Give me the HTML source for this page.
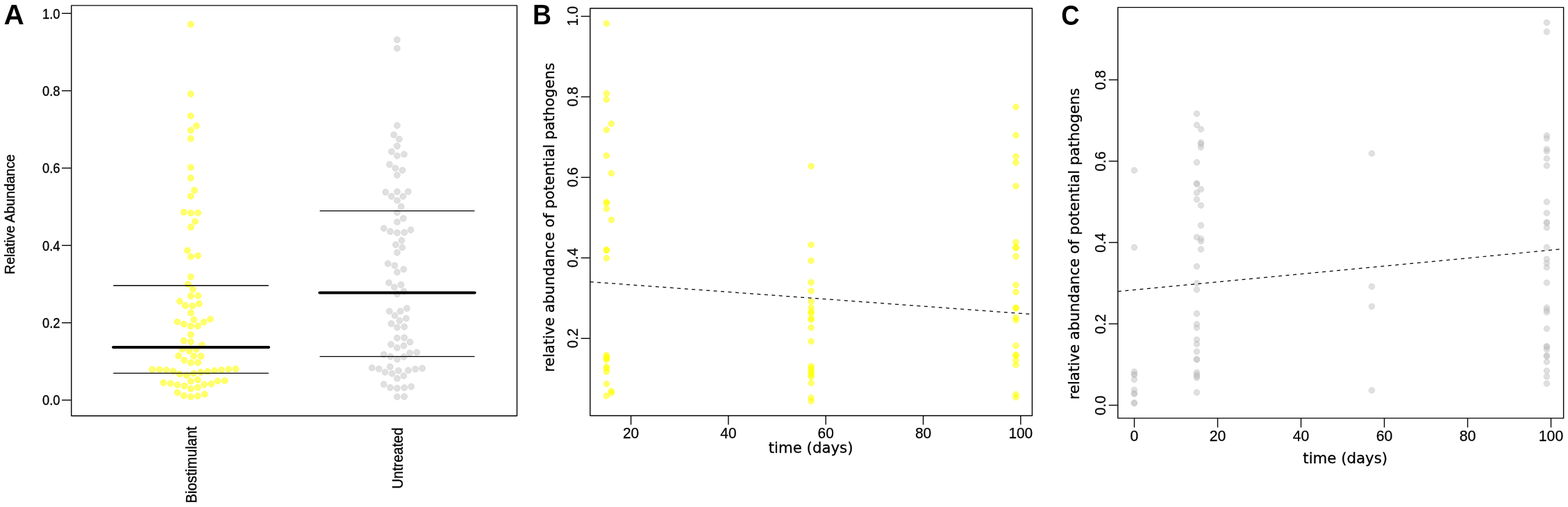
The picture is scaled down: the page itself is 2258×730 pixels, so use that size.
<!DOCTYPE html>
<html lang="en">
<head>
<meta charset="utf-8">
<title>Relative abundance of potential pathogens</title>
<style>
html,body{margin:0;padding:0;background:#fff;}
body{width:2258px;height:730px;overflow:hidden;}
svg{display:block;}
text{fill:#000;}
</style>
</head>
<body>
<svg width="2258" height="730" viewBox="0 0 2258 730">
<rect x="0" y="0" width="2258" height="730" fill="#fff"/>
<g fill="rgba(255,255,0,0.57)" stroke="rgba(255,255,0,0.57)" stroke-width="0.9">
<circle cx="274.7" cy="35.0" r="4.45"/>
<circle cx="274.7" cy="135.3" r="4.45"/>
<circle cx="274.7" cy="166.9" r="4.45"/>
<circle cx="282.7" cy="181.1" r="4.45"/>
<circle cx="274.7" cy="187.7" r="4.45"/>
<circle cx="274.7" cy="199.6" r="4.45"/>
<circle cx="274.7" cy="240.9" r="4.45"/>
<circle cx="274.7" cy="256.3" r="4.45"/>
<circle cx="280.1" cy="274.0" r="4.45"/>
<circle cx="274.7" cy="282.6" r="4.45"/>
<circle cx="264.7" cy="305.5" r="4.45"/>
<circle cx="274.8" cy="306.8" r="4.45"/>
<circle cx="285.1" cy="306.4" r="4.45"/>
<circle cx="281.0" cy="318.9" r="4.45"/>
<circle cx="274.8" cy="327.0" r="4.45"/>
<circle cx="269.9" cy="360.7" r="4.45"/>
<circle cx="274.8" cy="369.6" r="4.45"/>
<circle cx="284.9" cy="368.2" r="4.45"/>
<circle cx="274.8" cy="398.6" r="4.45"/>
<circle cx="270.8" cy="409.3" r="4.45"/>
<circle cx="277.8" cy="416.7" r="4.45"/>
<circle cx="274.8" cy="426.3" r="4.45"/>
<circle cx="285.1" cy="425.8" r="4.45"/>
<circle cx="258.9" cy="433.8" r="4.45"/>
<circle cx="266.8" cy="440.0" r="4.45"/>
<circle cx="277.1" cy="440.5" r="4.45"/>
<circle cx="286.7" cy="437.3" r="4.45"/>
<circle cx="274.8" cy="450.5" r="4.45"/>
<circle cx="279.3" cy="460.1" r="4.45"/>
<circle cx="255.3" cy="463.4" r="4.45"/>
<circle cx="264.9" cy="466.7" r="4.45"/>
<circle cx="274.8" cy="469.5" r="4.45"/>
<circle cx="284.9" cy="469.3" r="4.45"/>
<circle cx="293.4" cy="463.8" r="4.45"/>
<circle cx="302.7" cy="459.6" r="4.45"/>
<circle cx="274.8" cy="481.8" r="4.45"/>
<circle cx="264.7" cy="490.5" r="4.45"/>
<circle cx="274.8" cy="492.2" r="4.45"/>
<circle cx="290.8" cy="496.8" r="4.45"/>
<circle cx="262.6" cy="502.8" r="4.45"/>
<circle cx="272.5" cy="505.3" r="4.45"/>
<circle cx="282.6" cy="502.8" r="4.45"/>
<circle cx="257.1" cy="512.4" r="4.45"/>
<circle cx="279.2" cy="512.7" r="4.45"/>
<circle cx="289.6" cy="512.8" r="4.45"/>
<circle cx="265.2" cy="518.7" r="4.45"/>
<circle cx="274.8" cy="522.3" r="4.45"/>
<circle cx="285.1" cy="522.0" r="4.45"/>
<circle cx="219.3" cy="532.0" r="4.45"/>
<circle cx="229.6" cy="532.1" r="4.45"/>
<circle cx="239.6" cy="532.8" r="4.45"/>
<circle cx="249.7" cy="534.6" r="4.45"/>
<circle cx="258.9" cy="538.7" r="4.45"/>
<circle cx="269.0" cy="540.5" r="4.45"/>
<circle cx="279.0" cy="537.7" r="4.45"/>
<circle cx="288.9" cy="535.8" r="4.45"/>
<circle cx="299.0" cy="534.9" r="4.45"/>
<circle cx="309.0" cy="533.6" r="4.45"/>
<circle cx="319.0" cy="532.7" r="4.45"/>
<circle cx="329.3" cy="531.7" r="4.45"/>
<circle cx="339.5" cy="531.2" r="4.45"/>
<circle cx="235.3" cy="551.0" r="4.45"/>
<circle cx="245.5" cy="552.1" r="4.45"/>
<circle cx="255.5" cy="554.2" r="4.45"/>
<circle cx="265.5" cy="555.7" r="4.45"/>
<circle cx="274.8" cy="548.8" r="4.45"/>
<circle cx="284.8" cy="546.9" r="4.45"/>
<circle cx="274.8" cy="559.8" r="4.45"/>
<circle cx="284.8" cy="557.9" r="4.45"/>
<circle cx="294.1" cy="553.6" r="4.45"/>
<circle cx="304.2" cy="552.7" r="4.45"/>
<circle cx="313.6" cy="548.6" r="4.45"/>
<circle cx="323.7" cy="548.2" r="4.45"/>
<circle cx="255.5" cy="565.3" r="4.45"/>
<circle cx="264.7" cy="569.7" r="4.45"/>
<circle cx="274.8" cy="571.2" r="4.45"/>
<circle cx="284.8" cy="570.2" r="4.45"/>
<circle cx="294.8" cy="567.6" r="4.45"/>
</g>
<g fill="rgba(190,190,190,0.47)" stroke="rgba(190,190,190,0.47)" stroke-width="0.9">
<circle cx="571.8" cy="57.3" r="4.45"/>
<circle cx="571.8" cy="69.7" r="4.45"/>
<circle cx="571.9" cy="180.7" r="4.45"/>
<circle cx="567.1" cy="194.1" r="4.45"/>
<circle cx="574.9" cy="200.4" r="4.45"/>
<circle cx="571.9" cy="210.3" r="4.45"/>
<circle cx="563.8" cy="218.4" r="4.45"/>
<circle cx="571.9" cy="224.4" r="4.45"/>
<circle cx="581.9" cy="222.1" r="4.45"/>
<circle cx="560.9" cy="236.8" r="4.45"/>
<circle cx="569.4" cy="242.2" r="4.45"/>
<circle cx="579.4" cy="245.1" r="4.45"/>
<circle cx="571.9" cy="252.2" r="4.45"/>
<circle cx="555.3" cy="276.8" r="4.45"/>
<circle cx="571.9" cy="276.0" r="4.45"/>
<circle cx="587.8" cy="275.9" r="4.45"/>
<circle cx="563.7" cy="282.7" r="4.45"/>
<circle cx="580.4" cy="282.7" r="4.45"/>
<circle cx="571.9" cy="288.6" r="4.45"/>
<circle cx="577.6" cy="297.4" r="4.45"/>
<circle cx="571.9" cy="305.9" r="4.45"/>
<circle cx="580.8" cy="314.5" r="4.45"/>
<circle cx="571.9" cy="319.6" r="4.45"/>
<circle cx="552.7" cy="328.8" r="4.45"/>
<circle cx="562.0" cy="333.3" r="4.45"/>
<circle cx="571.9" cy="335.1" r="4.45"/>
<circle cx="582.2" cy="334.7" r="4.45"/>
<circle cx="591.5" cy="331.0" r="4.45"/>
<circle cx="578.3" cy="346.3" r="4.45"/>
<circle cx="569.8" cy="352.3" r="4.45"/>
<circle cx="579.2" cy="356.4" r="4.45"/>
<circle cx="571.9" cy="363.7" r="4.45"/>
<circle cx="558.6" cy="379.6" r="4.45"/>
<circle cx="568.3" cy="382.3" r="4.45"/>
<circle cx="571.9" cy="391.8" r="4.45"/>
<circle cx="581.3" cy="387.7" r="4.45"/>
<circle cx="560.0" cy="407.1" r="4.45"/>
<circle cx="567.8" cy="413.4" r="4.45"/>
<circle cx="577.5" cy="410.0" r="4.45"/>
<circle cx="581.5" cy="419.5" r="4.45"/>
<circle cx="571.9" cy="423.3" r="4.45"/>
<circle cx="560.7" cy="448.1" r="4.45"/>
<circle cx="576.5" cy="448.1" r="4.45"/>
<circle cx="585.9" cy="444.0" r="4.45"/>
<circle cx="568.6" cy="454.4" r="4.45"/>
<circle cx="584.9" cy="458.4" r="4.45"/>
<circle cx="575.3" cy="461.8" r="4.45"/>
<circle cx="563.4" cy="466.0" r="4.45"/>
<circle cx="571.9" cy="471.4" r="4.45"/>
<circle cx="582.2" cy="470.5" r="4.45"/>
<circle cx="571.9" cy="486.7" r="4.45"/>
<circle cx="582.2" cy="486.3" r="4.45"/>
<circle cx="590.4" cy="492.5" r="4.45"/>
<circle cx="563.0" cy="495.9" r="4.45"/>
<circle cx="581.5" cy="497.8" r="4.45"/>
<circle cx="571.9" cy="500.8" r="4.45"/>
<circle cx="552.7" cy="510.5" r="4.45"/>
<circle cx="590.1" cy="508.4" r="4.45"/>
<circle cx="600.2" cy="507.4" r="4.45"/>
<circle cx="562.4" cy="513.3" r="4.45"/>
<circle cx="581.5" cy="513.8" r="4.45"/>
<circle cx="571.9" cy="517.3" r="4.45"/>
<circle cx="535.6" cy="529.6" r="4.45"/>
<circle cx="545.6" cy="531.2" r="4.45"/>
<circle cx="554.6" cy="535.9" r="4.45"/>
<circle cx="561.8" cy="528.1" r="4.45"/>
<circle cx="564.6" cy="537.9" r="4.45"/>
<circle cx="573.9" cy="533.7" r="4.45"/>
<circle cx="571.9" cy="544.9" r="4.45"/>
<circle cx="581.3" cy="541.1" r="4.45"/>
<circle cx="587.9" cy="533.3" r="4.45"/>
<circle cx="598.1" cy="531.5" r="4.45"/>
<circle cx="608.1" cy="530.3" r="4.45"/>
<circle cx="552.7" cy="553.4" r="4.45"/>
<circle cx="561.9" cy="558.1" r="4.45"/>
<circle cx="571.9" cy="559.0" r="4.45"/>
<circle cx="582.2" cy="558.2" r="4.45"/>
<circle cx="592.2" cy="556.6" r="4.45"/>
<circle cx="571.9" cy="571.4" r="4.45"/>
<circle cx="582.2" cy="571.0" r="4.45"/>
</g>
<rect x="102.80" y="7.90" width="641.70" height="590.90" fill="none" stroke="#000" stroke-width="1.4" stroke-linejoin="round"/>
<line x1="89.00" y1="576.10" x2="102.80" y2="576.10" stroke="#000" stroke-width="1.4" />
<text x="86.50" y="583.40" font-family='"Liberation Sans", sans-serif' font-size="19.9" text-anchor="end" stroke="#000" stroke-width="0.35" stroke-linejoin="round" textLength="25.60" lengthAdjust="spacingAndGlyphs">0.0</text>
<line x1="89.00" y1="464.74" x2="102.80" y2="464.74" stroke="#000" stroke-width="1.4" />
<text x="86.50" y="472.04" font-family='"Liberation Sans", sans-serif' font-size="19.9" text-anchor="end" stroke="#000" stroke-width="0.35" stroke-linejoin="round" textLength="25.60" lengthAdjust="spacingAndGlyphs">0.2</text>
<line x1="89.00" y1="353.38" x2="102.80" y2="353.38" stroke="#000" stroke-width="1.4" />
<text x="86.50" y="360.68" font-family='"Liberation Sans", sans-serif' font-size="19.9" text-anchor="end" stroke="#000" stroke-width="0.35" stroke-linejoin="round" textLength="25.60" lengthAdjust="spacingAndGlyphs">0.4</text>
<line x1="89.00" y1="242.02" x2="102.80" y2="242.02" stroke="#000" stroke-width="1.4" />
<text x="86.50" y="249.32" font-family='"Liberation Sans", sans-serif' font-size="19.9" text-anchor="end" stroke="#000" stroke-width="0.35" stroke-linejoin="round" textLength="25.60" lengthAdjust="spacingAndGlyphs">0.6</text>
<line x1="89.00" y1="130.66" x2="102.80" y2="130.66" stroke="#000" stroke-width="1.4" />
<text x="86.50" y="137.96" font-family='"Liberation Sans", sans-serif' font-size="19.9" text-anchor="end" stroke="#000" stroke-width="0.35" stroke-linejoin="round" textLength="25.60" lengthAdjust="spacingAndGlyphs">0.8</text>
<line x1="89.00" y1="19.30" x2="102.80" y2="19.30" stroke="#000" stroke-width="1.4" />
<text x="86.50" y="26.60" font-family='"Liberation Sans", sans-serif' font-size="19.9" text-anchor="end" stroke="#000" stroke-width="0.35" stroke-linejoin="round" textLength="25.60" lengthAdjust="spacingAndGlyphs">1.0</text>
<line x1="163.70" y1="411.30" x2="386.30" y2="411.30" stroke="#000" stroke-width="1.4" stroke-linecap="round"/>
<line x1="163.00" y1="499.90" x2="387.00" y2="499.90" stroke="#000" stroke-width="4.0" stroke-linecap="round"/>
<line x1="163.70" y1="537.40" x2="386.30" y2="537.40" stroke="#000" stroke-width="1.4" stroke-linecap="round"/>
<line x1="461.00" y1="303.60" x2="683.00" y2="303.60" stroke="#000" stroke-width="1.4" stroke-linecap="round"/>
<line x1="460.30" y1="421.40" x2="683.70" y2="421.40" stroke="#000" stroke-width="4.0" stroke-linecap="round"/>
<line x1="461.00" y1="513.40" x2="683.00" y2="513.40" stroke="#000" stroke-width="1.4" stroke-linecap="round"/>
<text font-family='"Liberation Sans", sans-serif' font-size="19.6" text-anchor="middle" stroke="#000" stroke-width="0.35" stroke-linejoin="round" textLength="172.80" lengthAdjust="spacingAndGlyphs" transform="translate(21.30,308.50) rotate(-90)">Relative Abundance</text>
<text font-family='"Liberation Sans", sans-serif' font-size="21.4" text-anchor="end" stroke="#000" stroke-width="0.35" stroke-linejoin="round" textLength="110.60" lengthAdjust="spacingAndGlyphs" transform="translate(282.50,614.00) rotate(-90)">Biostimulant</text>
<text font-family='"Liberation Sans", sans-serif' font-size="21.4" text-anchor="end" stroke="#000" stroke-width="0.35" stroke-linejoin="round" textLength="88.10" lengthAdjust="spacingAndGlyphs" transform="translate(579.60,615.60) rotate(-90)">Untreated</text>
<text x="5.60" y="34.80" font-family='"Liberation Sans", sans-serif' font-size="40.6" text-anchor="start" font-weight="bold">A</text>
<g fill="rgba(255,255,0,0.57)" stroke="rgba(255,255,0,0.57)" stroke-width="0.9">
<circle cx="873.4" cy="33.8" r="4.25"/>
<circle cx="873.4" cy="134.5" r="4.25"/>
<circle cx="873.4" cy="143.3" r="4.25"/>
<circle cx="880.4" cy="178.1" r="4.25"/>
<circle cx="873.4" cy="186.9" r="4.25"/>
<circle cx="873.4" cy="224.1" r="4.25"/>
<circle cx="880.4" cy="249.4" r="4.25"/>
<circle cx="873.4" cy="290.9" r="4.25"/>
<circle cx="873.4" cy="292.5" r="4.25"/>
<circle cx="873.4" cy="300.7" r="4.25"/>
<circle cx="880.4" cy="316.6" r="4.25"/>
<circle cx="873.4" cy="359.6" r="4.25"/>
<circle cx="873.4" cy="360.6" r="4.25"/>
<circle cx="873.4" cy="371.8" r="4.25"/>
<circle cx="873.4" cy="511.5" r="4.25"/>
<circle cx="873.4" cy="513.7" r="4.25"/>
<circle cx="873.4" cy="516.4" r="4.25"/>
<circle cx="873.4" cy="517.8" r="4.25"/>
<circle cx="873.4" cy="527.9" r="4.25"/>
<circle cx="873.4" cy="530.7" r="4.25"/>
<circle cx="873.4" cy="535.3" r="4.25"/>
<circle cx="873.4" cy="552.7" r="4.25"/>
<circle cx="880.4" cy="563.0" r="4.25"/>
<circle cx="880.4" cy="565.8" r="4.25"/>
<circle cx="873.4" cy="569.9" r="4.25"/>
<circle cx="1168.1" cy="239.3" r="4.25"/>
<circle cx="1168.1" cy="352.5" r="4.25"/>
<circle cx="1168.1" cy="375.3" r="4.25"/>
<circle cx="1168.1" cy="406.6" r="4.25"/>
<circle cx="1168.1" cy="418.9" r="4.25"/>
<circle cx="1168.1" cy="433.9" r="4.25"/>
<circle cx="1168.1" cy="442.8" r="4.25"/>
<circle cx="1168.1" cy="448.7" r="4.25"/>
<circle cx="1168.1" cy="450.7" r="4.25"/>
<circle cx="1168.1" cy="458.4" r="4.25"/>
<circle cx="1168.1" cy="460.3" r="4.25"/>
<circle cx="1168.1" cy="471.8" r="4.25"/>
<circle cx="1168.1" cy="491.5" r="4.25"/>
<circle cx="1168.1" cy="527.3" r="4.25"/>
<circle cx="1168.1" cy="530.3" r="4.25"/>
<circle cx="1168.1" cy="533.6" r="4.25"/>
<circle cx="1168.1" cy="536.8" r="4.25"/>
<circle cx="1168.1" cy="539.6" r="4.25"/>
<circle cx="1168.1" cy="542.5" r="4.25"/>
<circle cx="1168.1" cy="551.6" r="4.25"/>
<circle cx="1168.1" cy="572.8" r="4.25"/>
<circle cx="1168.1" cy="577.6" r="4.25"/>
<circle cx="1462.9" cy="153.9" r="4.25"/>
<circle cx="1462.9" cy="194.8" r="4.25"/>
<circle cx="1462.9" cy="225.2" r="4.25"/>
<circle cx="1462.9" cy="234.0" r="4.25"/>
<circle cx="1462.9" cy="267.9" r="4.25"/>
<circle cx="1462.9" cy="348.8" r="4.25"/>
<circle cx="1462.9" cy="355.8" r="4.25"/>
<circle cx="1462.9" cy="357.3" r="4.25"/>
<circle cx="1462.9" cy="369.3" r="4.25"/>
<circle cx="1462.9" cy="410.2" r="4.25"/>
<circle cx="1462.9" cy="420.5" r="4.25"/>
<circle cx="1462.9" cy="443.0" r="4.25"/>
<circle cx="1462.9" cy="444.0" r="4.25"/>
<circle cx="1462.9" cy="457.3" r="4.25"/>
<circle cx="1462.9" cy="460.9" r="4.25"/>
<circle cx="1462.9" cy="497.8" r="4.25"/>
<circle cx="1462.9" cy="510.9" r="4.25"/>
<circle cx="1462.9" cy="512.0" r="4.25"/>
<circle cx="1462.9" cy="518.6" r="4.25"/>
<circle cx="1462.9" cy="525.3" r="4.25"/>
<circle cx="1462.9" cy="567.9" r="4.25"/>
<circle cx="1462.9" cy="572.0" r="4.25"/>
</g>
<line x1="849.80" y1="405.80" x2="1486.40" y2="452.50" stroke="#000" stroke-width="1.25" stroke-dasharray="5 5.486"/>
<rect x="849.80" y="12.00" width="636.60" height="586.50" fill="none" stroke="#000" stroke-width="1.4" stroke-linejoin="round"/>
<line x1="836.70" y1="487.30" x2="849.80" y2="487.30" stroke="#000" stroke-width="1.4" />
<text font-family='"Liberation Sans", sans-serif' font-size="22.1" text-anchor="middle" stroke="#000" stroke-width="0.25" stroke-linejoin="round" textLength="28.57" lengthAdjust="spacingAndGlyphs" transform="translate(832.10,487.00) rotate(-90)">0.2</text>
<line x1="836.70" y1="371.35" x2="849.80" y2="371.35" stroke="#000" stroke-width="1.4" />
<text font-family='"Liberation Sans", sans-serif' font-size="22.1" text-anchor="middle" stroke="#000" stroke-width="0.25" stroke-linejoin="round" textLength="28.57" lengthAdjust="spacingAndGlyphs" transform="translate(832.10,371.05) rotate(-90)">0.4</text>
<line x1="836.70" y1="255.40" x2="849.80" y2="255.40" stroke="#000" stroke-width="1.4" />
<text font-family='"Liberation Sans", sans-serif' font-size="22.1" text-anchor="middle" stroke="#000" stroke-width="0.25" stroke-linejoin="round" textLength="28.57" lengthAdjust="spacingAndGlyphs" transform="translate(832.10,255.10) rotate(-90)">0.6</text>
<line x1="836.70" y1="139.45" x2="849.80" y2="139.45" stroke="#000" stroke-width="1.4" />
<text font-family='"Liberation Sans", sans-serif' font-size="22.1" text-anchor="middle" stroke="#000" stroke-width="0.25" stroke-linejoin="round" textLength="28.57" lengthAdjust="spacingAndGlyphs" transform="translate(832.10,139.15) rotate(-90)">0.8</text>
<line x1="836.70" y1="23.50" x2="849.80" y2="23.50" stroke="#000" stroke-width="1.4" />
<text font-family='"Liberation Sans", sans-serif' font-size="22.1" text-anchor="middle" stroke="#000" stroke-width="0.25" stroke-linejoin="round" textLength="28.57" lengthAdjust="spacingAndGlyphs" transform="translate(832.10,23.20) rotate(-90)">1.0</text>
<line x1="908.60" y1="598.50" x2="908.60" y2="611.60" stroke="#000" stroke-width="1.4" />
<text x="908.60" y="631.20" font-family='"Liberation Sans", sans-serif' font-size="21.5" text-anchor="middle" stroke="#000" stroke-width="0.25" stroke-linejoin="round" textLength="23.20" lengthAdjust="spacingAndGlyphs">20</text>
<line x1="1048.90" y1="598.50" x2="1048.90" y2="611.60" stroke="#000" stroke-width="1.4" />
<text x="1048.90" y="631.20" font-family='"Liberation Sans", sans-serif' font-size="21.5" text-anchor="middle" stroke="#000" stroke-width="0.25" stroke-linejoin="round" textLength="23.20" lengthAdjust="spacingAndGlyphs">40</text>
<line x1="1189.20" y1="598.50" x2="1189.20" y2="611.60" stroke="#000" stroke-width="1.4" />
<text x="1189.20" y="631.20" font-family='"Liberation Sans", sans-serif' font-size="21.5" text-anchor="middle" stroke="#000" stroke-width="0.25" stroke-linejoin="round" textLength="23.20" lengthAdjust="spacingAndGlyphs">60</text>
<line x1="1329.50" y1="598.50" x2="1329.50" y2="611.60" stroke="#000" stroke-width="1.4" />
<text x="1329.50" y="631.20" font-family='"Liberation Sans", sans-serif' font-size="21.5" text-anchor="middle" stroke="#000" stroke-width="0.25" stroke-linejoin="round" textLength="23.20" lengthAdjust="spacingAndGlyphs">80</text>
<line x1="1469.80" y1="598.50" x2="1469.80" y2="611.60" stroke="#000" stroke-width="1.4" />
<text x="1469.80" y="631.20" font-family='"Liberation Sans", sans-serif' font-size="21.5" text-anchor="middle" stroke="#000" stroke-width="0.25" stroke-linejoin="round" textLength="34.80" lengthAdjust="spacingAndGlyphs">100</text>
<text x="1167.60" y="652.30" font-family='"DejaVu Sans", "Liberation Sans", sans-serif' font-size="21" text-anchor="middle" stroke="#000" stroke-width="0.3" stroke-linejoin="round" textLength="121.70" lengthAdjust="spacingAndGlyphs">time (days)</text>
<text font-family='"DejaVu Sans", "Liberation Sans", sans-serif' font-size="21" text-anchor="middle" stroke="#000" stroke-width="0.3" stroke-linejoin="round" textLength="445.45" lengthAdjust="spacingAndGlyphs" transform="translate(798.05,313.10) rotate(-90)">relative abundance of potential pathogens</text>
<text x="766.90" y="34.60" font-family='"Liberation Sans", sans-serif' font-size="40.5" text-anchor="start" font-weight="bold" textLength="27.00" lengthAdjust="spacingAndGlyphs">B</text>
<g fill="rgba(190,190,190,0.47)" stroke="rgba(190,190,190,0.47)" stroke-width="0.9">
<circle cx="1633.4" cy="245.2" r="4.25"/>
<circle cx="1633.4" cy="356.2" r="4.25"/>
<circle cx="1633.4" cy="535.2" r="4.25"/>
<circle cx="1633.4" cy="538.8" r="4.25"/>
<circle cx="1633.4" cy="539.8" r="4.25"/>
<circle cx="1633.4" cy="546.5" r="4.25"/>
<circle cx="1633.4" cy="561.5" r="4.25"/>
<circle cx="1633.4" cy="566.2" r="4.25"/>
<circle cx="1633.4" cy="567.2" r="4.25"/>
<circle cx="1633.4" cy="579.8" r="4.25"/>
<circle cx="1633.4" cy="580.8" r="4.25"/>
<circle cx="1723.4" cy="163.8" r="4.25"/>
<circle cx="1723.4" cy="179.9" r="4.25"/>
<circle cx="1729.4" cy="186.0" r="4.25"/>
<circle cx="1729.4" cy="205.3" r="4.25"/>
<circle cx="1729.4" cy="207.4" r="4.25"/>
<circle cx="1729.4" cy="211.9" r="4.25"/>
<circle cx="1723.4" cy="233.7" r="4.25"/>
<circle cx="1723.4" cy="264.0" r="4.25"/>
<circle cx="1723.4" cy="265.0" r="4.25"/>
<circle cx="1729.4" cy="272.5" r="4.25"/>
<circle cx="1723.4" cy="277.5" r="4.25"/>
<circle cx="1723.4" cy="287.2" r="4.25"/>
<circle cx="1729.4" cy="295.8" r="4.25"/>
<circle cx="1729.4" cy="324.4" r="4.25"/>
<circle cx="1723.4" cy="341.4" r="4.25"/>
<circle cx="1729.4" cy="343.7" r="4.25"/>
<circle cx="1729.4" cy="347.2" r="4.25"/>
<circle cx="1729.4" cy="358.9" r="4.25"/>
<circle cx="1723.4" cy="383.6" r="4.25"/>
<circle cx="1723.4" cy="407.8" r="4.25"/>
<circle cx="1723.4" cy="417.0" r="4.25"/>
<circle cx="1723.4" cy="451.6" r="4.25"/>
<circle cx="1723.4" cy="466.8" r="4.25"/>
<circle cx="1723.4" cy="471.8" r="4.25"/>
<circle cx="1723.4" cy="489.0" r="4.25"/>
<circle cx="1723.4" cy="495.2" r="4.25"/>
<circle cx="1723.4" cy="506.3" r="4.25"/>
<circle cx="1723.4" cy="517.0" r="4.25"/>
<circle cx="1723.4" cy="518.0" r="4.25"/>
<circle cx="1723.4" cy="536.2" r="4.25"/>
<circle cx="1723.4" cy="539.4" r="4.25"/>
<circle cx="1723.4" cy="541.6" r="4.25"/>
<circle cx="1723.4" cy="544.0" r="4.25"/>
<circle cx="1723.4" cy="565.0" r="4.25"/>
<circle cx="1975.4" cy="221.0" r="4.25"/>
<circle cx="1975.4" cy="412.6" r="4.25"/>
<circle cx="1975.4" cy="441.2" r="4.25"/>
<circle cx="1975.4" cy="562.1" r="4.25"/>
<circle cx="2227.4" cy="32.6" r="4.25"/>
<circle cx="2227.4" cy="45.8" r="4.25"/>
<circle cx="2227.4" cy="195.1" r="4.25"/>
<circle cx="2227.4" cy="199.2" r="4.25"/>
<circle cx="2227.4" cy="214.7" r="4.25"/>
<circle cx="2227.4" cy="217.7" r="4.25"/>
<circle cx="2227.4" cy="228.2" r="4.25"/>
<circle cx="2227.4" cy="238.5" r="4.25"/>
<circle cx="2227.4" cy="290.7" r="4.25"/>
<circle cx="2227.4" cy="306.7" r="4.25"/>
<circle cx="2227.4" cy="320.0" r="4.25"/>
<circle cx="2227.4" cy="321.0" r="4.25"/>
<circle cx="2227.4" cy="327.7" r="4.25"/>
<circle cx="2227.4" cy="356.1" r="4.25"/>
<circle cx="2227.4" cy="373.1" r="4.25"/>
<circle cx="2227.4" cy="378.7" r="4.25"/>
<circle cx="2227.4" cy="385.1" r="4.25"/>
<circle cx="2227.4" cy="407.1" r="4.25"/>
<circle cx="2227.4" cy="443.0" r="4.25"/>
<circle cx="2227.4" cy="446.5" r="4.25"/>
<circle cx="2227.4" cy="449.6" r="4.25"/>
<circle cx="2227.4" cy="473.2" r="4.25"/>
<circle cx="2227.4" cy="498.5" r="4.25"/>
<circle cx="2227.4" cy="499.5" r="4.25"/>
<circle cx="2227.4" cy="503.1" r="4.25"/>
<circle cx="2227.4" cy="512.0" r="4.25"/>
<circle cx="2227.4" cy="513.0" r="4.25"/>
<circle cx="2227.4" cy="521.0" r="4.25"/>
<circle cx="2227.4" cy="534.0" r="4.25"/>
<circle cx="2227.4" cy="542.2" r="4.25"/>
<circle cx="2227.4" cy="552.3" r="4.25"/>
</g>
<line x1="1609.80" y1="419.70" x2="2251.60" y2="358.40" stroke="#000" stroke-width="1.25" stroke-dasharray="5 5.56"/>
<rect x="1609.80" y="10.60" width="641.80" height="591.50" fill="none" stroke="#000" stroke-width="1.4" stroke-linejoin="round"/>
<line x1="1596.70" y1="583.45" x2="1609.80" y2="583.45" stroke="#000" stroke-width="1.4" />
<text font-family='"Liberation Sans", sans-serif' font-size="22.1" text-anchor="middle" stroke="#000" stroke-width="0.25" stroke-linejoin="round" textLength="28.57" lengthAdjust="spacingAndGlyphs" transform="translate(1592.20,583.75) rotate(-90)">0.0</text>
<line x1="1596.70" y1="466.33" x2="1609.80" y2="466.33" stroke="#000" stroke-width="1.4" />
<text font-family='"Liberation Sans", sans-serif' font-size="22.1" text-anchor="middle" stroke="#000" stroke-width="0.25" stroke-linejoin="round" textLength="28.57" lengthAdjust="spacingAndGlyphs" transform="translate(1592.20,466.63) rotate(-90)">0.2</text>
<line x1="1596.70" y1="349.20" x2="1609.80" y2="349.20" stroke="#000" stroke-width="1.4" />
<text font-family='"Liberation Sans", sans-serif' font-size="22.1" text-anchor="middle" stroke="#000" stroke-width="0.25" stroke-linejoin="round" textLength="28.57" lengthAdjust="spacingAndGlyphs" transform="translate(1592.20,349.50) rotate(-90)">0.4</text>
<line x1="1596.70" y1="232.08" x2="1609.80" y2="232.08" stroke="#000" stroke-width="1.4" />
<text font-family='"Liberation Sans", sans-serif' font-size="22.1" text-anchor="middle" stroke="#000" stroke-width="0.25" stroke-linejoin="round" textLength="28.57" lengthAdjust="spacingAndGlyphs" transform="translate(1592.20,232.38) rotate(-90)">0.6</text>
<line x1="1596.70" y1="114.95" x2="1609.80" y2="114.95" stroke="#000" stroke-width="1.4" />
<text font-family='"Liberation Sans", sans-serif' font-size="22.1" text-anchor="middle" stroke="#000" stroke-width="0.25" stroke-linejoin="round" textLength="28.57" lengthAdjust="spacingAndGlyphs" transform="translate(1592.20,115.25) rotate(-90)">0.8</text>
<line x1="1633.50" y1="602.10" x2="1633.50" y2="615.50" stroke="#000" stroke-width="1.4" />
<text x="1633.50" y="635.30" font-family='"Liberation Sans", sans-serif' font-size="21.5" text-anchor="middle" stroke="#000" stroke-width="0.25" stroke-linejoin="round" textLength="11.78" lengthAdjust="spacingAndGlyphs">0</text>
<line x1="1753.50" y1="602.10" x2="1753.50" y2="615.50" stroke="#000" stroke-width="1.4" />
<text x="1753.50" y="635.30" font-family='"Liberation Sans", sans-serif' font-size="21.5" text-anchor="middle" stroke="#000" stroke-width="0.25" stroke-linejoin="round" textLength="23.56" lengthAdjust="spacingAndGlyphs">20</text>
<line x1="1873.50" y1="602.10" x2="1873.50" y2="615.50" stroke="#000" stroke-width="1.4" />
<text x="1873.50" y="635.30" font-family='"Liberation Sans", sans-serif' font-size="21.5" text-anchor="middle" stroke="#000" stroke-width="0.25" stroke-linejoin="round" textLength="23.56" lengthAdjust="spacingAndGlyphs">40</text>
<line x1="1993.50" y1="602.10" x2="1993.50" y2="615.50" stroke="#000" stroke-width="1.4" />
<text x="1993.50" y="635.30" font-family='"Liberation Sans", sans-serif' font-size="21.5" text-anchor="middle" stroke="#000" stroke-width="0.25" stroke-linejoin="round" textLength="23.56" lengthAdjust="spacingAndGlyphs">60</text>
<line x1="2113.50" y1="602.10" x2="2113.50" y2="615.50" stroke="#000" stroke-width="1.4" />
<text x="2113.50" y="635.30" font-family='"Liberation Sans", sans-serif' font-size="21.5" text-anchor="middle" stroke="#000" stroke-width="0.25" stroke-linejoin="round" textLength="23.56" lengthAdjust="spacingAndGlyphs">80</text>
<line x1="2233.50" y1="602.10" x2="2233.50" y2="615.50" stroke="#000" stroke-width="1.4" />
<text x="2233.50" y="635.30" font-family='"Liberation Sans", sans-serif' font-size="21.5" text-anchor="middle" stroke="#000" stroke-width="0.25" stroke-linejoin="round" textLength="35.33" lengthAdjust="spacingAndGlyphs">100</text>
<text x="1937.20" y="666.90" font-family='"DejaVu Sans", "Liberation Sans", sans-serif' font-size="21" text-anchor="middle" stroke="#000" stroke-width="0.3" stroke-linejoin="round" textLength="121.80" lengthAdjust="spacingAndGlyphs">time (days)</text>
<text font-family='"DejaVu Sans", "Liberation Sans", sans-serif' font-size="21" text-anchor="middle" stroke="#000" stroke-width="0.3" stroke-linejoin="round" textLength="448.50" lengthAdjust="spacingAndGlyphs" transform="translate(1553.75,351.00) rotate(-90)">relative abundance of potential pathogens</text>
<text x="1528.30" y="35.60" font-family='"Liberation Sans", sans-serif' font-size="41.0" text-anchor="start" font-weight="bold" textLength="26.40" lengthAdjust="spacingAndGlyphs">C</text>
</svg>
</body>
</html>
